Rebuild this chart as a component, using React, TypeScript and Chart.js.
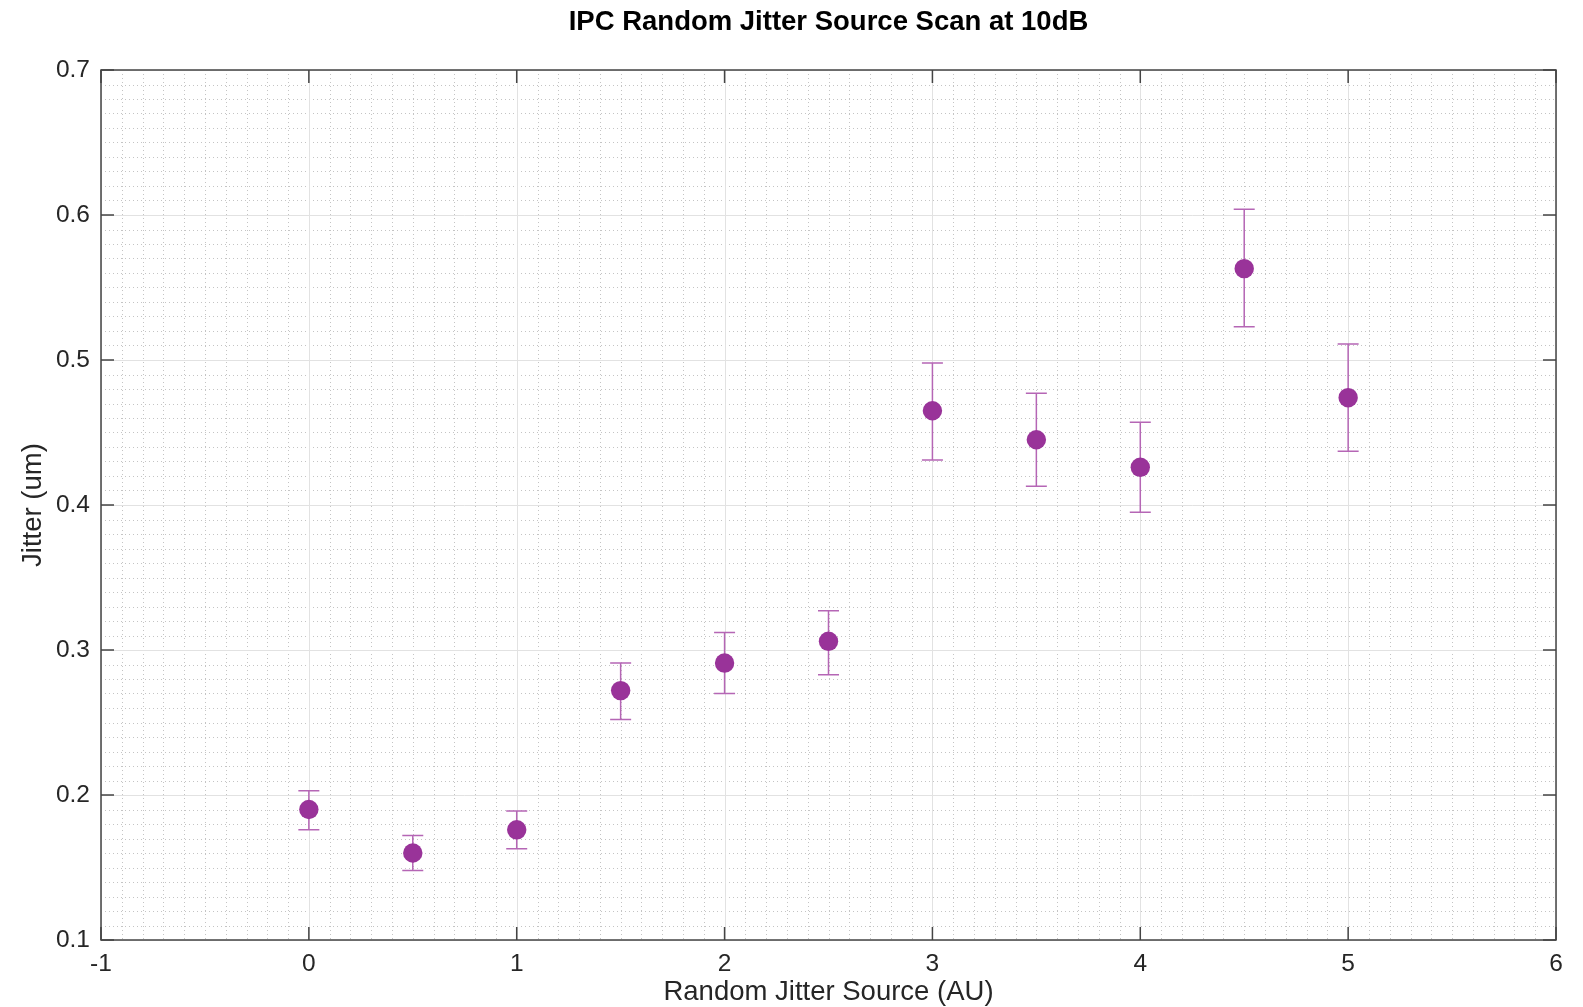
import React, { useEffect, useRef } from 'react';
import { Chart, registerables } from 'chart.js';

Chart.register(...registerables);

// ---- Data ----
const sourceLevels = [0, 0.5, 1, 1.5, 2, 2.5, 3, 3.5, 4, 4.5, 5];
const jitterValues = [0.190, 0.160, 0.176, 0.272, 0.291, 0.306, 0.465, 0.445, 0.426, 0.563, 0.474];
const jitterLower = [0.176, 0.148, 0.163, 0.252, 0.270, 0.283, 0.431, 0.413, 0.395, 0.523, 0.437];
const jitterUpper = [0.203, 0.172, 0.189, 0.291, 0.312, 0.327, 0.498, 0.477, 0.457, 0.604, 0.511];

const xTickValues = [-1, 0, 1, 2, 3, 4, 5, 6];
const yTickValues = [0.1, 0.2, 0.3, 0.4, 0.5, 0.6, 0.7];
const xMinorStep = 0.1;
const yMinorStep = 0.01;

const titleText = 'IPC Random Jitter Source Scan at 10dB';
const xTitleText = 'Random Jitter Source (AU)';
const yTitleText = 'Jitter (um)';

// ---- Styles ----
const W = 1583;
const H = 1007;
const FONT = '"Liberation Sans", Arial, Helvetica, sans-serif';
const markerColor = '#993399';
const errorColor = '#b566b5';
const frameColor = '#444444';
const majorGridColor = '#e2e2e2';
const minorGridColor = '#c4c4c4';
const textColor = '#262626';

const gridPlugin = {
  id: 'matlabGrid',
  beforeDatasetsDraw(chart: any) {
    const { ctx, chartArea, scales } = chart;
    const xs = scales.x;
    const ys = scales.y;
    const { left, right, top, bottom } = chartArea;
    ctx.save();
    // minor grid (dotted)
    ctx.strokeStyle = minorGridColor;
    ctx.lineWidth = 1;
    ctx.setLineDash([1, 3]);
    const xMin = xTickValues[0];
    const xMax = xTickValues[xTickValues.length - 1];
    const nx = Math.round((xMax - xMin) / xMinorStep);
    for (let i = 0; i <= nx; i++) {
      if (i % 10 === 0) continue;
      const px = Math.round(xs.getPixelForValue(xMin + i * xMinorStep)) + 0.5;
      ctx.beginPath();
      ctx.moveTo(px, top);
      ctx.lineTo(px, bottom);
      ctx.stroke();
    }
    const yMin = yTickValues[0];
    const yMax = yTickValues[yTickValues.length - 1];
    const ny = Math.round((yMax - yMin) / yMinorStep);
    for (let i = 0; i <= ny; i++) {
      if (i % 10 === 0) continue;
      const py = Math.round(ys.getPixelForValue(yMin + i * yMinorStep)) + 0.5;
      ctx.beginPath();
      ctx.moveTo(left, py);
      ctx.lineTo(right, py);
      ctx.stroke();
    }
    // major grid (solid)
    ctx.setLineDash([]);
    ctx.strokeStyle = majorGridColor;
    ctx.lineWidth = 1;
    xTickValues.forEach((v) => {
      const px = Math.round(xs.getPixelForValue(v)) + 0.5;
      ctx.beginPath();
      ctx.moveTo(px, top);
      ctx.lineTo(px, bottom);
      ctx.stroke();
    });
    yTickValues.forEach((v) => {
      const py = Math.round(ys.getPixelForValue(v)) + 0.5;
      ctx.beginPath();
      ctx.moveTo(left, py);
      ctx.lineTo(right, py);
      ctx.stroke();
    });
    // error bars
    ctx.strokeStyle = errorColor;
    ctx.lineWidth = 1.5;
    const cap = 10.5;
    sourceLevels.forEach((xv, i) => {
      const px = xs.getPixelForValue(xv);
      const pLo = ys.getPixelForValue(jitterLower[i]);
      const pHi = ys.getPixelForValue(jitterUpper[i]);
      ctx.beginPath();
      ctx.moveTo(px, pLo);
      ctx.lineTo(px, pHi);
      ctx.moveTo(px - cap, pLo);
      ctx.lineTo(px + cap, pLo);
      ctx.moveTo(px - cap, pHi);
      ctx.lineTo(px + cap, pHi);
      ctx.stroke();
    });
    ctx.restore();
  },
  afterDraw(chart: any) {
    const { ctx, chartArea, scales } = chart;
    const xs = scales.x;
    const ys = scales.y;
    const { left, right, top, bottom } = chartArea;
    const tick = 13;
    ctx.save();
    ctx.strokeStyle = frameColor;
    ctx.lineWidth = 1.5;
    ctx.strokeRect(left, top, right - left, bottom - top);
    ctx.beginPath();
    xTickValues.forEach((v) => {
      const px = xs.getPixelForValue(v);
      ctx.moveTo(px, bottom);
      ctx.lineTo(px, bottom - tick);
      ctx.moveTo(px, top);
      ctx.lineTo(px, top + tick);
    });
    yTickValues.forEach((v) => {
      const py = ys.getPixelForValue(v);
      ctx.moveTo(left, py);
      ctx.lineTo(left + tick, py);
      ctx.moveTo(right, py);
      ctx.lineTo(right - tick, py);
    });
    ctx.stroke();
    ctx.restore();
  },
};

export default function App() {
  const canvasRef = useRef<HTMLCanvasElement | null>(null);

  useEffect(() => {
    document.body.style.margin = '0';
    document.body.style.overflow = 'hidden';
    const canvas = canvasRef.current;
    if (!canvas) return;
    const chart = new Chart(canvas, {
      type: 'scatter',
      data: {
        datasets: [
          {
            label: 'Jitter',
            data: sourceLevels.map((x, i) => ({ x, y: jitterValues[i] })),
            backgroundColor: markerColor,
            borderColor: markerColor,
            borderWidth: 0,
            pointRadius: 9.7,
            pointHoverRadius: 9.7,
            showLine: false,
          },
        ],
      },
      options: {
        responsive: false,
        animation: false,
        devicePixelRatio: 1,
        layout: { padding: { left: 0, right: 27, top: 0, bottom: 0 } },
        plugins: {
          legend: { display: false },
          tooltip: { enabled: false },
          title: {
            display: true,
            text: titleText,
            fullSize: false,
            color: '#000000',
            font: { family: FONT, size: 27.5, weight: 'bold' },
            padding: { top: 6, bottom: 31 },
          },
        },
        scales: {
          x: {
            type: 'linear',
            min: xTickValues[0],
            max: xTickValues[xTickValues.length - 1],
            afterBuildTicks: (s: any) => {
              s.ticks = xTickValues.map((v) => ({ value: v }));
            },
            afterFit: (s: any) => {
              s.height = 67;
            },
            grid: { display: false, drawTicks: false },
            border: { display: false },
            ticks: {
              color: textColor,
              font: { family: FONT, size: 24.5 },
              padding: 10,
              maxRotation: 0,
              autoSkip: false,
              callback: (v: any) => String(v),
            },
            title: {
              display: true,
              text: xTitleText,
              color: textColor,
              font: { family: FONT, size: 27.5 },
              padding: { top: 0, bottom: -2 },
            },
          },
          y: {
            type: 'linear',
            min: yTickValues[0],
            max: yTickValues[yTickValues.length - 1],
            afterBuildTicks: (s: any) => {
              s.ticks = yTickValues.map((v) => ({ value: v }));
            },
            afterFit: (s: any) => {
              s.width = 101;
            },
            grid: { display: false, drawTicks: false },
            border: { display: false },
            ticks: {
              color: textColor,
              font: { family: FONT, size: 24.5 },
              padding: 11,
              autoSkip: false,
              callback: (v: any) => Number(v).toFixed(1),
            },
            title: {
              display: true,
              text: yTitleText,
              color: textColor,
              font: { family: FONT, size: 27.5 },
              padding: { top: 17, bottom: 0 },
            },
          },
        },
      },
      plugins: [gridPlugin],
    });
    return () => {
      chart.destroy();
    };
  }, []);

  return (
    <div style={{ width: W, height: H, background: '#ffffff' }}>
      <canvas ref={canvasRef} width={W} height={H} style={{ display: 'block', width: W, height: H }} />
    </div>
  );
}
